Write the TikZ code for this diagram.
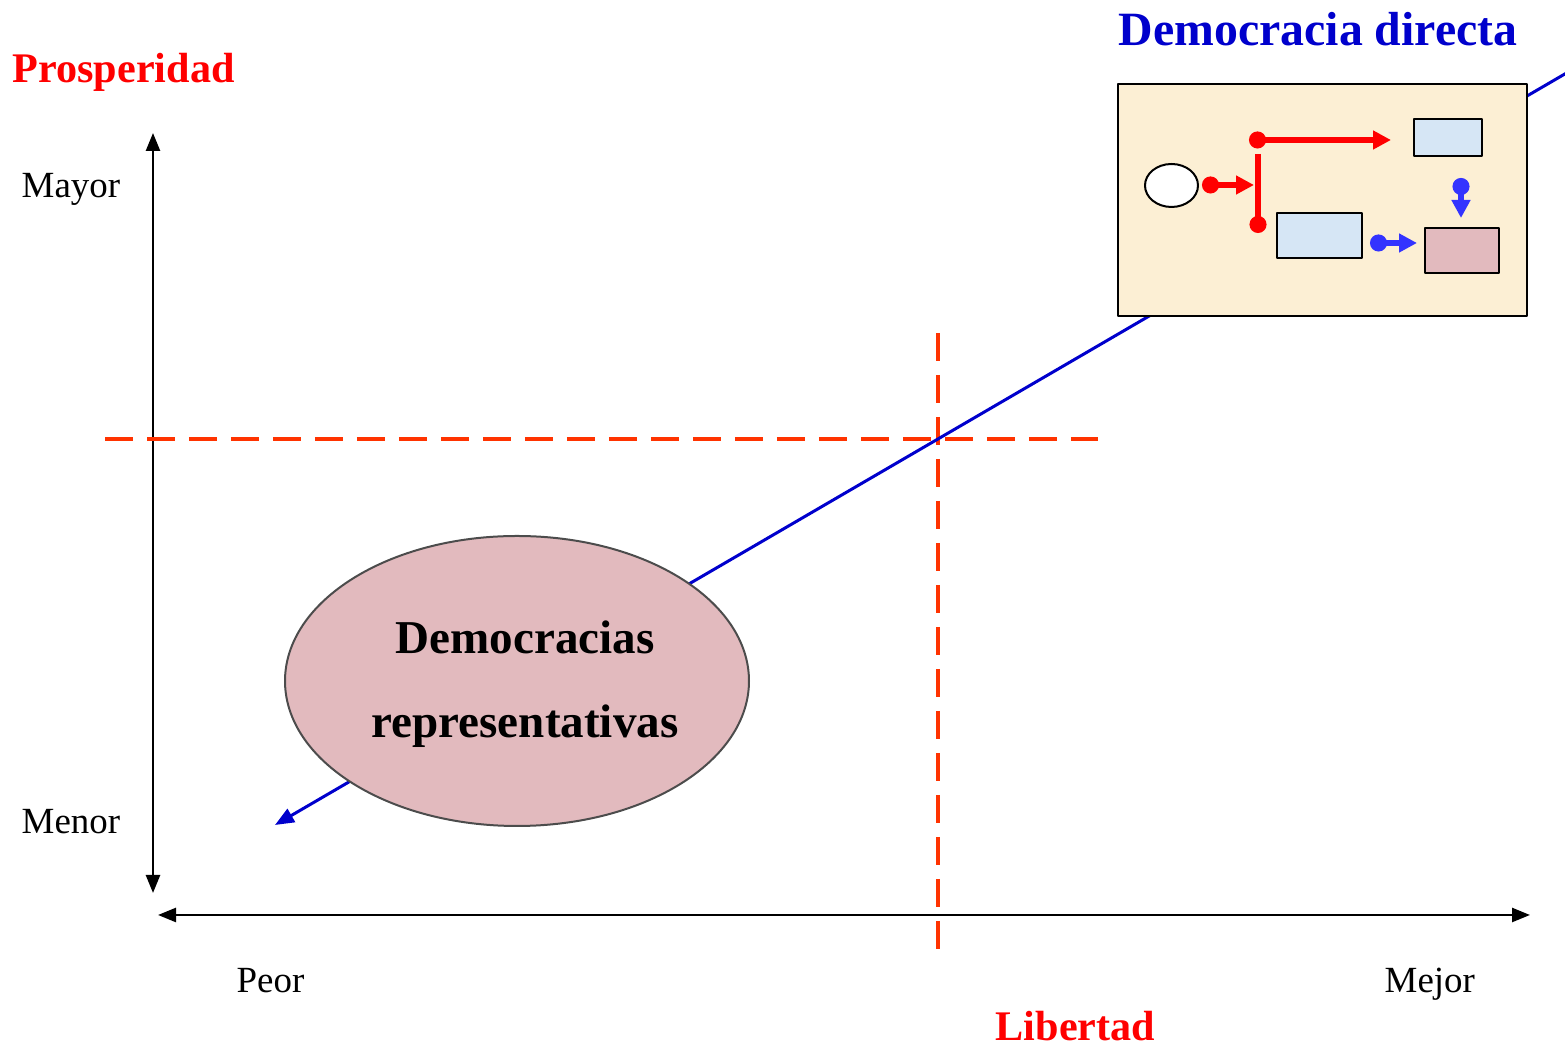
\documentclass[tikz,border=0pt]{standalone}
\usepackage{fontspec}
\setmainfont{Liberation Serif}
\usetikzlibrary{arrows.meta,shapes.geometric}
\definecolor{rojo}{RGB}{255,0,0}
\definecolor{naranja}{RGB}{255,51,0}
\definecolor{azul}{RGB}{0,0,204}
\definecolor{azulvivo}{RGB}{51,51,255}
\definecolor{crema}{RGB}{252,239,212}
\definecolor{celeste}{RGB}{214,230,245}
\definecolor{rosa}{RGB}{226,186,190}
\begin{document}
\begin{tikzpicture}[x=0.1mm,y=-0.1mm, line join=round,
	eje/.style={line width=0.25mm,{Triangle[length=1.8mm,width=1.4mm]}-{Triangle[length=1.8mm,width=1.4mm]}},
	corte/.style={naranja,line width=0.35mm,dash pattern=on 2.8mm off 1.4mm},
	caja/.style={draw,line width=0.2mm,inner sep=0pt},
	flechaR/.style={rojo,line width=0.55mm,{Circle[length=1.7mm]}-{Triangle[length=1.8mm,width=1.8mm]}},
	flechaA/.style={azulvivo,line width=0.55mm,{Circle[length=1.7mm]}-{Triangle[length=1.8mm,width=1.8mm]}},
	etiq/.style={inner sep=0pt,anchor=base west,font=\fontsize{10.5}{12}\selectfont},
	titulo/.style={inner sep=0pt,anchor=base west,font=\fontsize{12}{14}\selectfont\bfseries}]
	\useasboundingbox (0,0) rectangle (1565,1045);
	% ejes
	\coordinate (ysup) at (153,133); \coordinate (yinf) at (153,893);
	\coordinate (xizq) at (158,915); \coordinate (xder) at (1530,915);
	\draw[eje] (yinf)--(ysup);
	\draw[eje] (xizq)--(xder);
	% lineas de corte
	\coordinate (h1) at (105,439); \coordinate (h2) at (1098,439);
	\coordinate (v1) at (938,333); \coordinate (v2) at (938,957);
	\draw[corte] (h1)--(h2);
	\draw[corte] (v1)--(v2);
	% tendencia
	\coordinate (tsup) at (1582,64); \coordinate (tinf) at (275,825);
	\draw[azul,line width=0.3mm,-{Triangle[length=1.9mm,width=1.5mm]}] (tsup)--(tinf);
	% textos
	\node[titulo,rojo] (prosp) at (12,83) {Prosperidad};
	\node[titulo,rojo] (lib) at (995,1041) {Libertad};
	\node[titulo,azul,font=\fontsize{13.6}{16}\selectfont\bfseries] (dd) at (1118,46) {Democracia directa};
	\node[etiq] (mayor) at (21,198) {Mayor};
	\node[etiq] (menor) at (21,834) {Menor};
	\node[etiq] (peor) at (236,993) {Peor};
	\node[etiq] (mejor) at (1384,993) {Mejor};
	% democracias representativas
	\node[ellipse,draw=black!70,line width=0.2mm,fill=rosa,minimum width=46.4mm,minimum height=29mm] (rep) at (517,681) {};
	\node[align=center,font=\fontsize{13.4}{24}\selectfont\bfseries] (reptxt) at (525,684) {Democracias\\representativas};
	% esquema de democracia directa
	\node[caja,fill=crema,minimum width=40.9mm,minimum height=23.2mm,anchor=north west] (marco) at (1117,83) {};
	\node[caja,ellipse,fill=white,minimum width=5.3mm,minimum height=4.3mm] (pueblo) at (1171.5,185.5) {};
	\node[caja,fill=celeste,minimum width=6.8mm,minimum height=3.7mm] (ley) at (1448,137.5) {};
	\node[caja,fill=celeste,minimum width=8.5mm,minimum height=4.5mm] (gob) at (1319.5,235.5) {};
	\node[caja,fill=rosa,minimum width=7.4mm,minimum height=4.5mm] (res) at (1462,250.5) {};
	\coordinate (p1) at (1202,185); \coordinate (p2) at (1254,185);
	\coordinate (b1) at (1249,140); \coordinate (b2) at (1391,140);
	\coordinate (c1) at (1258,154); \coordinate (c2) at (1258,233);
	\coordinate (d1) at (1461,178); \coordinate (d2) at (1461,218);
	\coordinate (e1) at (1370,243); \coordinate (e2) at (1417,243);
	\draw[flechaR] (p1)--(p2);
	\draw[flechaR] (b1)--(b2);
	\draw[rojo,line width=0.55mm,-{Circle[length=1.7mm]}] (c1)--(c2);
	\draw[flechaA] (d1)--(d2);
	\draw[flechaA] (e1)--(e2);
\end{tikzpicture}
\end{document}
